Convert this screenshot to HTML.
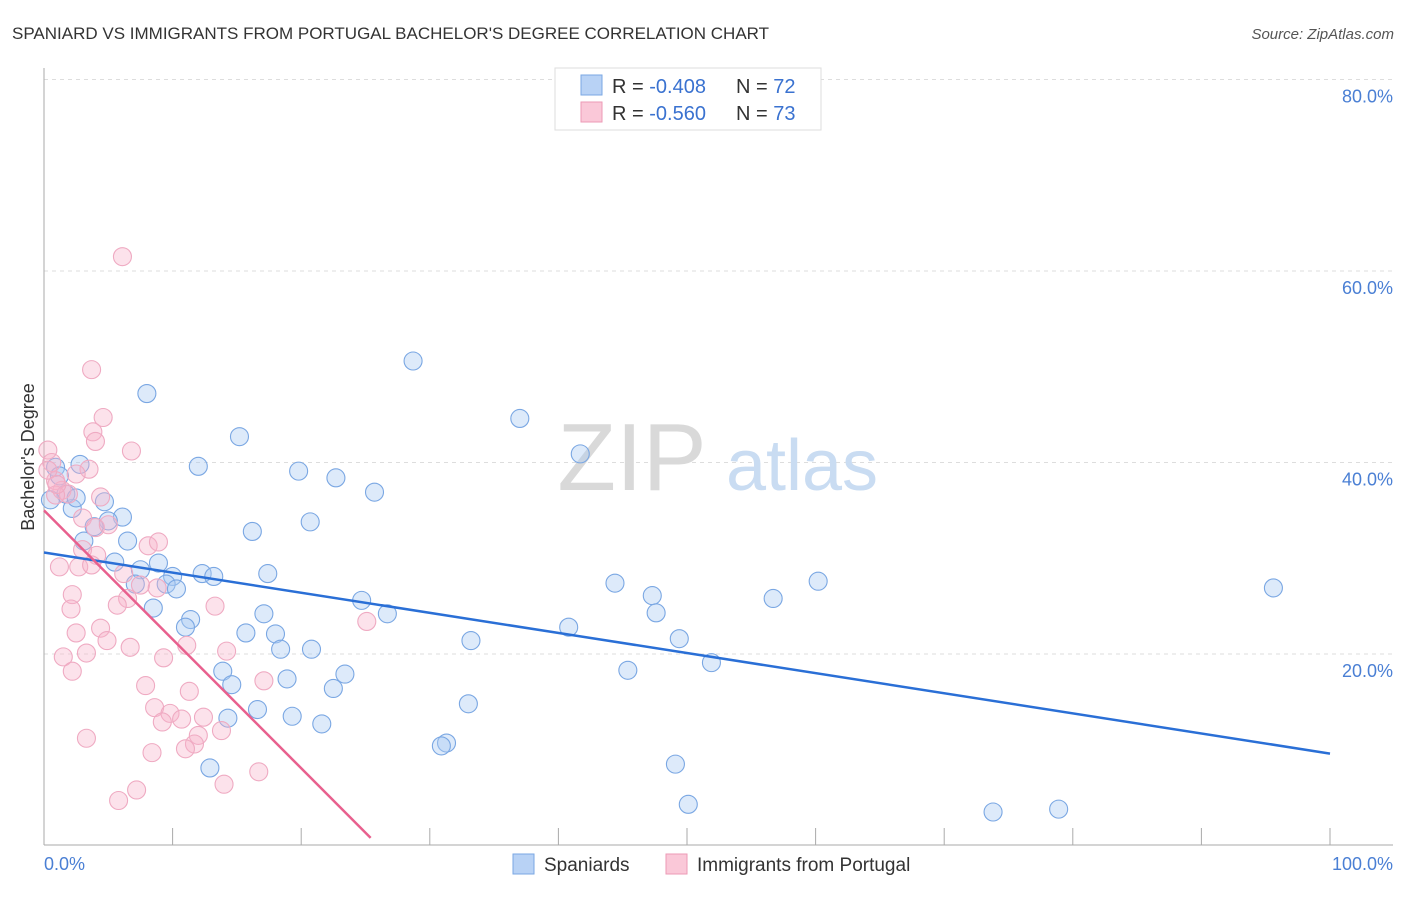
<!DOCTYPE html>
<html><head><meta charset="utf-8"><style>
body{margin:0;background:#fff;font-family:"Liberation Sans",sans-serif;}
svg text{font-family:"Liberation Sans",sans-serif;}
</style></head><body>
<svg id="chart" width="1406" height="892" xmlns="http://www.w3.org/2000/svg">
<text x="12" y="39" font-size="17" fill="#333">SPANIARD VS IMMIGRANTS FROM PORTUGAL BACHELOR'S DEGREE CORRELATION CHART</text>
<text x="1394" y="39" font-size="15" fill="#555" font-style="italic" text-anchor="end">Source: ZipAtlas.com</text>
<g id="grid"></g>
<g>
<text x="632" y="490" font-size="96" font-family="Liberation Serif" fill="#d9d9d9" text-anchor="middle">ZIP</text>
<text x="802" y="490" font-size="72" fill="#c9dcf2" text-anchor="middle">atlas</text>
</g>
<g id="pts"></g>
<g id="lines"></g>
<text transform="translate(34,457) rotate(-90)" font-size="18" fill="#333" text-anchor="middle">Bachelor's Degree</text>
<text x="44" y="870" font-size="18" fill="#4a7fd4">0.0%</text>
<text x="1393" y="870" font-size="18" fill="#4a7fd4" text-anchor="end">100.0%</text>
<g>
<rect x="555" y="68" width="266" height="62" fill="#fff" stroke="#ddd"/>
<rect x="581" y="75" width="21" height="20" fill="#b8d2f5" stroke="#7aa7e3"/>
<rect x="581" y="102" width="21" height="20" fill="#fac8d8" stroke="#ec9ab6"/>
<text x="612" y="93" font-size="20" fill="#333">R = <tspan fill="#3a72d0">-0.408</tspan></text>
<text x="736" y="93" font-size="20" fill="#333">N = <tspan fill="#3a72d0">72</tspan></text>
<text x="612" y="120" font-size="20" fill="#333">R = <tspan fill="#3a72d0">-0.560</tspan></text>
<text x="736" y="120" font-size="20" fill="#333">N = <tspan fill="#3a72d0">73</tspan></text>
</g>
<g>
<rect x="513" y="854" width="21" height="20" fill="#b8d2f5" stroke="#7aa7e3"/>
<text x="544" y="871" font-size="19" fill="#333">Spaniards</text>
<rect x="666" y="854" width="21" height="20" fill="#fac8d8" stroke="#ec9ab6"/>
<text x="697" y="871" font-size="19" fill="#333">Immigrants from Portugal</text>
</g>
</svg>
<script>
const yTicks=[20,40,60,80];
const yTickLabels=["20.0%","40.0%","60.0%","80.0%"];
const blueX=[28.7,37.0,41.7,8.0,15.2,12.0,19.8,22.7,25.7,4.7,6.1,20.7,16.2,6.5,3.1,5.0,3.9,2.2,0.9,1.2,1.7,8.9,5.5,7.5,10.0,12.3,13.2,17.4,9.5,10.3,7.1,24.7,26.7,17.1,8.5,11.4,11.0,15.7,18.0,18.4,20.8,33.2,40.8,44.4,47.3,47.6,49.4,51.9,56.7,60.2,45.4,95.6,13.9,14.6,18.9,23.4,22.5,33.0,16.6,19.3,21.6,14.3,31.3,30.9,49.1,12.9,50.1,73.8,78.9,2.8,0.5,2.5];
const blueY=[50.6,44.6,40.9,47.2,42.7,39.6,39.1,38.4,36.9,35.9,34.3,33.8,32.8,31.8,31.8,33.9,33.3,35.2,39.5,38.6,36.7,29.5,29.6,28.8,28.1,28.4,28.1,28.4,27.3,26.8,27.3,25.6,24.2,24.2,24.8,23.6,22.8,22.2,22.1,20.5,20.5,21.4,22.8,27.4,26.1,24.3,21.6,19.1,25.8,27.6,18.3,26.9,18.2,16.8,17.4,17.9,16.4,14.8,14.2,13.5,12.7,13.3,10.7,10.4,8.5,8.1,4.3,3.5,3.8,39.8,36.1,36.3];
const pinkX=[6.1,3.7,4.6,3.8,4.0,6.8,0.3,0.6,3.5,2.5,1.4,1.9,4.4,0.9,3.0,4.0,5.0,8.1,8.9,3.0,4.1,1.2,2.7,3.7,6.2,7.5,8.8,6.5,5.7,13.3,2.2,2.1,4.4,2.5,4.9,6.7,11.1,25.1,14.2,3.3,1.5,9.3,2.2,17.1,7.9,11.3,8.6,9.8,10.7,12.4,9.2,13.8,12.0,11.7,3.3,11.0,8.4,16.7,14.0,7.2,5.8,0.9,0.3,1.0];
const pinkY=[61.5,49.7,44.7,43.2,42.2,41.2,41.3,40.0,39.3,38.8,37.1,36.7,36.4,38.1,34.2,33.2,33.5,31.3,31.7,30.9,30.3,29.1,29.1,29.3,28.4,27.2,26.9,25.8,25.1,25.0,26.2,24.7,22.7,22.2,21.4,20.7,20.9,23.4,20.3,20.1,19.7,19.6,18.2,17.2,16.7,16.1,14.4,13.8,13.2,13.4,12.9,12.0,11.5,10.6,11.2,10.1,9.7,7.7,6.4,5.8,4.7,36.6,39.2,37.7];
const blueTrend=[[0,30.6],[100,9.6]];
const pinkTrend=[[0,35.0],[25.4,0.8]];
const NS="http://www.w3.org/2000/svg";
const X=v=>44+v*12.86, Y=v=>845.5-v*9.575;
function mk(t,a,p){const e=document.createElementNS(NS,t);for(const k in a)e.setAttribute(k,a[k]);p.appendChild(e);return e;}
const grid=document.getElementById('grid');
yTicks.forEach((t,i)=>{
 const l=mk('line',{x1:44,x2:1393,y1:Y(t),y2:Y(t),stroke:'#ddd','stroke-dasharray':'4,4'},grid);
 
 
 const tx=mk('text',{x:1393,y:Y(t)+23,'font-size':18,fill:'#4a7fd4','text-anchor':'end'},grid);
 tx.textContent=yTickLabels[i];
 
 
});
const ax=mk('line',{x1:44,x2:44,y1:68,y2:845,stroke:'#aaa'},grid);


const bx=mk('line',{x1:44,x2:1393,y1:845,y2:845,stroke:'#aaa'},grid);


for(let i=0;i<=10;i++){const t=mk('line',{x1:X(i*10),x2:X(i*10),y1:828,y2:845,stroke:'#aaa'},grid);
 
 }
const pts=document.getElementById('pts');
blueX.forEach((v,i)=>{const c=mk('circle',{cx:X(v),cy:Y(blueY[i]),r:9,fill:'rgba(170,202,242,0.4)',stroke:'#7aa7e3','stroke-width':1.1},pts);
 
 });
pinkX.forEach((v,i)=>{const c=mk('circle',{cx:X(v),cy:Y(pinkY[i]),r:9,fill:'rgba(246,180,202,0.38)',stroke:'#efaac2','stroke-width':1.1},pts);
 
 });
const lines=document.getElementById('lines');
const bl=mk('line',{x1:X(blueTrend[0][0]),y1:Y(blueTrend[0][1]),x2:X(blueTrend[1][0]),y2:Y(blueTrend[1][1]),stroke:'#2a6fd6','stroke-width':2.5},lines);


const pl=mk('line',{x1:X(pinkTrend[0][0]),y1:Y(pinkTrend[0][1]),x2:X(pinkTrend[1][0]),y2:Y(pinkTrend[1][1]),stroke:'#e8608e','stroke-width':2.5},lines);


</script>
</body></html>
